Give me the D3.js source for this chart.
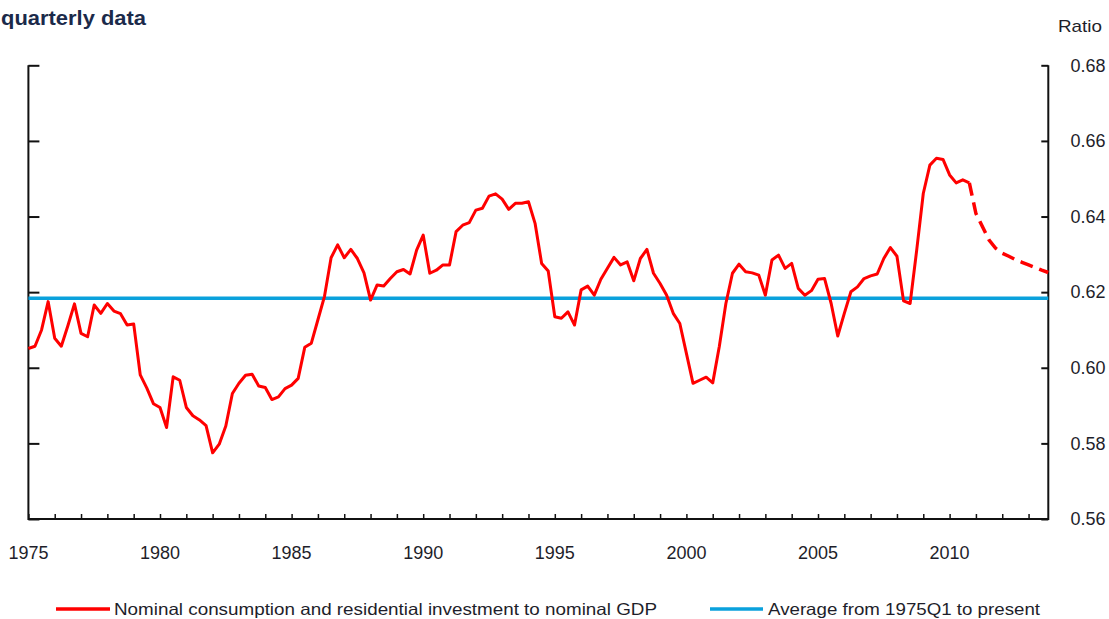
<!DOCTYPE html>
<html>
<head>
<meta charset="utf-8">
<script src="https://cdn.jsdelivr.net/npm/d3@7"></script>
<style>
  html, body { margin: 0; padding: 0; background: #fff; }
  svg { display: block; font-family: "Liberation Sans", Arial, sans-serif; }
</style>
</head>
<body>
<svg id="chart" width="1109" height="619"></svg>
<script>
// ---------------- data ----------------
const titleText = "quarterly data";
const unitLabel = "Ratio";
const firstYear = 1975;          // 1975Q1
const lastQuarterYear = 2013.75; // 2013Q4
const xTickLabels = [1975, 1980, 1985, 1990, 1995, 2000, 2005, 2010];
const yTickValues = [0.56, 0.58, 0.60, 0.62, 0.64, 0.66, 0.68];

// Nominal consumption and residential investment to nominal GDP, quarterly 1975Q1 - 2010Q4
const actualRatio = [
  0.6051, 0.6057, 0.6100, 0.6175,  // 1975
  0.6078, 0.6057, 0.6111, 0.6169,  // 1976
  0.6091, 0.6082, 0.6166, 0.6144,  // 1977
  0.6170, 0.6150, 0.6143, 0.6113,  // 1978
  0.6116, 0.5981, 0.5946, 0.5905,  // 1979
  0.5895, 0.5842, 0.5976, 0.5967,  // 1980
  0.5895, 0.5873, 0.5862, 0.5847,  // 1981
  0.5775, 0.5798, 0.5846, 0.5932,  // 1982
  0.5959, 0.5980, 0.5983, 0.5952,  // 1983
  0.5948, 0.5916, 0.5923, 0.5945,  // 1984
  0.5954, 0.5972, 0.6054, 0.6065,  // 1985
  0.6127, 0.6189, 0.6291, 0.6325,  // 1986
  0.6291, 0.6313, 0.6289, 0.6251,  // 1987
  0.6179, 0.6219, 0.6216, 0.6236,  // 1988
  0.6254, 0.6260, 0.6248, 0.6311,  // 1989
  0.6351, 0.6250, 0.6258, 0.6272,  // 1990
  0.6272, 0.6360, 0.6377, 0.6384,  // 1991
  0.6417, 0.6422, 0.6454, 0.6460,  // 1992
  0.6446, 0.6419, 0.6435, 0.6435,  // 1993
  0.6439, 0.6382, 0.6276, 0.6256,  // 1994
  0.6135, 0.6131, 0.6148, 0.6113,  // 1995
  0.6206, 0.6216, 0.6192, 0.6234,  // 1996
  0.6263, 0.6292, 0.6272, 0.6280,  // 1997
  0.6230, 0.6289, 0.6313, 0.6250,  // 1998
  0.6223, 0.6192, 0.6144, 0.6117,  // 1999
  0.6038, 0.5959, 0.5967, 0.5975,  // 2000
  0.5960, 0.6056, 0.6170, 0.6250,  // 2001
  0.6274, 0.6254, 0.6251, 0.6245,  // 2002
  0.6192, 0.6285, 0.6298, 0.6263,  // 2003
  0.6276, 0.6210, 0.6192, 0.6204,  // 2004
  0.6234, 0.6236, 0.6170, 0.6084,  // 2005
  0.6144, 0.6201, 0.6214, 0.6236,  // 2006
  0.6243, 0.6248, 0.6289, 0.6318,  // 2007
  0.6295, 0.6177, 0.6170, 0.6311,  // 2008
  0.6461, 0.6536, 0.6554, 0.6551,  // 2009
  0.6510, 0.6489, 0.6497, 0.6489   // 2010
];
// Projection, 2011Q1 - 2013Q4 (dashed)
const projectedRatio = [
  0.6408, 0.6373, 0.6338, 0.6316,  // 2011
  0.6303, 0.6295, 0.6286, 0.6279,  // 2012
  0.6272, 0.6265, 0.6258, 0.6252   // 2013
];
const averageRatio = 0.6184;

const legendLabels = [
  "Nominal consumption and residential investment to nominal GDP",
  "Average from 1975Q1 to present"
];
const colors = { ratio: "#ff0000", average: "#0aa1dc" };

// ---------------- chart ----------------
const svg = d3.select("#chart");
const mLeft = 28.4, mRight = 1048.3, mTop = 65.3, mBottom = 519;
const textColor = "#1e1e2a";

const x = d3.scaleLinear().domain([firstYear, lastQuarterYear]).range([mLeft, mRight]);
const y = d3.scaleLinear().domain([0.56, 0.68]).range([mBottom, mTop]);

const actualPts = actualRatio.map((v, i) => ({ t: firstYear + i / 4, v }));
const lastActual = actualPts[actualPts.length - 1];
const projPts = [lastActual].concat(projectedRatio.map((v, i) => ({ t: lastActual.t + (i + 1) / 4, v })));

const line = d3.line().x(d => x(d.t)).y(d => y(d.v));

// title
svg.append("text")
  .attr("x", 1).attr("y", 25)
  .attr("font-size", 21).attr("font-weight", "bold")
  .attr("fill", "#1b2a4a")
  .attr("textLength", 145).attr("lengthAdjust", "spacingAndGlyphs")
  .text(titleText);

// unit label
svg.append("text")
  .attr("x", 1058).attr("y", 31.5)
  .attr("font-size", 17).attr("fill", textColor)
  .attr("textLength", 44).attr("lengthAdjust", "spacingAndGlyphs")
  .text(unitLabel);

const axisColor = "#111";

// bottom axis with yearly inward ticks
const yearTicks = d3.range(firstYear, Math.floor(lastQuarterYear) + 1);
const xAxis = d3.axisBottom(x).tickValues(yearTicks).tickSize(-5).tickFormat("");
const gx = svg.append("g").attr("transform", `translate(0,${mBottom})`).call(xAxis);
gx.select(".domain").remove();
gx.selectAll(".tick line").attr("stroke", axisColor).attr("stroke-width", 1.5);

svg.append("g").selectAll("text").data(xTickLabels).join("text")
  .attr("x", d => x(d)).attr("y", 559)
  .attr("text-anchor", "middle")
  .attr("font-size", 17.5).attr("fill", textColor)
  .attr("textLength", 40).attr("lengthAdjust", "spacingAndGlyphs")
  .text(d => d);

// left axis (ticks inward, no labels)
const yAxisL = d3.axisLeft(y).tickValues(yTickValues).tickSize(-11).tickFormat("");
const gl = svg.append("g").attr("transform", `translate(${mLeft},0)`).call(yAxisL);
gl.select(".domain").remove();
gl.selectAll(".tick line").attr("stroke", axisColor).attr("stroke-width", 2);

// right axis (ticks inward, labels outside)
const yAxisR = d3.axisRight(y).tickValues(yTickValues).tickSize(-7).tickFormat("");
const gr = svg.append("g").attr("transform", `translate(${mRight},0)`).call(yAxisR);
gr.select(".domain").remove();
gr.selectAll(".tick line").attr("stroke", axisColor).attr("stroke-width", 2);

svg.append("g").selectAll("text").data(yTickValues).join("text")
  .attr("x", 1070.5).attr("y", d => y(d))
  .attr("dy", "0.36em")
  .attr("font-size", 17.5).attr("fill", textColor)
  .attr("textLength", 35).attr("lengthAdjust", "spacingAndGlyphs")
  .text(d => d3.format(".2f")(d));

// frame lines (left, right, bottom)
svg.append("path")
  .attr("d", `M${mLeft},${mTop}V${mBottom}H${mRight}V${mTop}`)
  .attr("fill", "none").attr("stroke", axisColor).attr("stroke-width", 2);

// average line
svg.append("line")
  .attr("x1", mLeft).attr("x2", mRight)
  .attr("y1", y(averageRatio)).attr("y2", y(averageRatio))
  .attr("stroke", colors.average).attr("stroke-width", 3.5);

// ratio line
svg.append("path").datum(actualPts)
  .attr("d", line).attr("fill", "none")
  .attr("stroke", colors.ratio).attr("stroke-width", 3)
  .attr("stroke-linejoin", "round");

svg.append("path").datum(projPts)
  .attr("d", line).attr("fill", "none")
  .attr("stroke", colors.ratio).attr("stroke-width", 3.5)
  .attr("stroke-dasharray", "13,7");

// legend
const legend = svg.append("g");
legend.append("line").attr("x1", 56).attr("x2", 110).attr("y1", 609).attr("y2", 609)
  .attr("stroke", colors.ratio).attr("stroke-width", 3.5);
legend.append("text").attr("x", 114).attr("y", 615)
  .attr("font-size", 16.5).attr("fill", textColor)
  .attr("textLength", 543).attr("lengthAdjust", "spacingAndGlyphs")
  .text(legendLabels[0]);
legend.append("line").attr("x1", 710).attr("x2", 763).attr("y1", 609).attr("y2", 609)
  .attr("stroke", colors.average).attr("stroke-width", 3.5);
legend.append("text").attr("x", 768).attr("y", 615)
  .attr("font-size", 16.5).attr("fill", textColor)
  .attr("textLength", 272).attr("lengthAdjust", "spacingAndGlyphs")
  .text(legendLabels[1]);
</script>
</body>
</html>
